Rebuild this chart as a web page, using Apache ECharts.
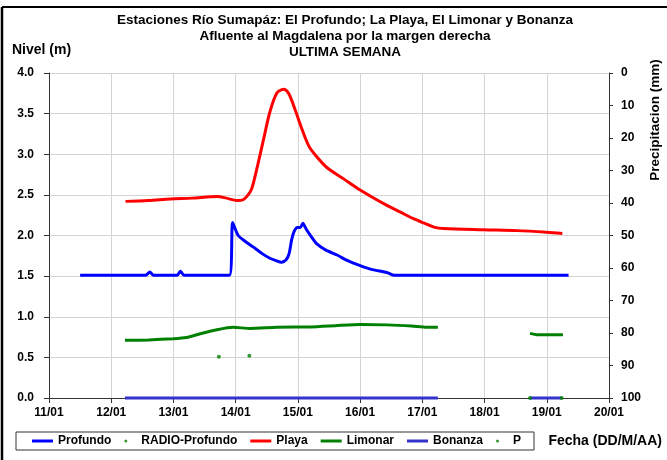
<!DOCTYPE html>
<html>
<head>
<meta charset="utf-8">
<script src="https://cdn.jsdelivr.net/npm/echarts@6/dist/echarts.min.js"></script>
<style>
  html, body { margin: 0; padding: 0; background: #fff; }
  #chart { width: 667px; height: 460px; }
</style>
</head>
<body>
<div id="chart"></div>
<script>
// days are day-of-month in January, values in metres
const dayTicks = [11, 12, 13, 14, 15, 16, 17, 18, 19, 20]

const profundo = [
  [11.50, 1.51], [12.55, 1.51], [12.62, 1.55], [12.68, 1.51], [13.06, 1.51],
  [13.11, 1.56], [13.17, 1.51], [13.90, 1.51], [13.95, 2.16], [14.04, 2.00],
  [14.15, 1.93], [14.28, 1.86], [14.42, 1.78], [14.55, 1.72], [14.65, 1.69],
  [14.74, 1.67], [14.81, 1.70], [14.86, 1.78], [14.90, 1.95], [14.94, 2.05],
  [14.99, 2.10], [15.04, 2.10], [15.08, 2.15], [15.14, 2.07], [15.22, 1.98],
  [15.30, 1.90], [15.45, 1.82], [15.63, 1.76], [15.80, 1.69], [16.00, 1.63],
  [16.20, 1.58], [16.43, 1.545], [16.55, 1.51], [19.35, 1.51],
]

const radioProfundo = [[13.73, 0.507], [14.22, 0.52]]

const playa = [
  [12.23, 2.42], [12.60, 2.43], [12.95, 2.45], [13.30, 2.46], [13.70, 2.48],
  [13.85, 2.46], [14.02, 2.43], [14.12, 2.44], [14.20, 2.50], [14.26, 2.58],
  [14.34, 2.82], [14.45, 3.19], [14.55, 3.52], [14.66, 3.75], [14.77, 3.80],
  [14.85, 3.75], [14.95, 3.56], [15.06, 3.32], [15.17, 3.11], [15.28, 2.99],
  [15.46, 2.84], [15.73, 2.70], [16.00, 2.56], [16.43, 2.37], [16.64, 2.29],
  [16.85, 2.21], [17.02, 2.155], [17.20, 2.10], [17.34, 2.085], [17.98, 2.07],
  [18.52, 2.06], [19.00, 2.04], [19.25, 2.025],
]

const limonar = [
  [12.22, 0.71], [12.60, 0.715], [13.00, 0.73], [13.21, 0.745], [13.43, 0.79],
  [13.70, 0.84], [13.96, 0.87], [14.23, 0.856], [14.66, 0.87], [15.20, 0.875],
  [15.60, 0.89], [16.00, 0.905], [16.43, 0.90], [16.83, 0.885], [17.07, 0.87],
  [17.25, 0.87], [17.80, null], [18.73, 0.795], [18.84, 0.78], [19.26, 0.78],
]

const bonanza = [[12.22, 0], [17.25, 0], [17.80, null], [18.73, 0], [19.24, 0]]

const precip = [[18.73, 0], [19.24, 0]]

const titleLines = [
  'Estaciones Río Sumapáz: El Profundo; La Playa, El Limonar y Bonanza',
  'Afluente al Magdalena por la margen derecha',
  'ULTIMA SEMANA',
]

const FONT = "'Liberation Sans', Arial, sans-serif"
const bold = (size) => `bold ${size}px ${FONT}`

const chart = echarts.init(document.getElementById('chart'))

const axisText = { color: '#000', fontSize: 12, fontWeight: 'bold', fontFamily: FONT }

const option = {
  animation: false,
  backgroundColor: '#fff',
  grid: { left: 49, right: 58, top: 73, bottom: 62 },
  legend: {
    left: 16,
    top: 432,
    padding: [3, 13, 3, 16],
    itemWidth: 21,
    itemHeight: 3,
    itemGap: 13,
    borderColor: '#333',
    borderWidth: 1,
    textStyle: { color: '#000', fontSize: 12, fontWeight: 'bold', fontFamily: FONT },
    data: [
      { name: 'Profundo', icon: 'rect' },
      { name: 'RADIO-Profundo', icon: 'circle' },
      { name: 'Playa', icon: 'rect' },
      { name: 'Limonar', icon: 'rect' },
      { name: 'Bonanza', icon: 'rect' },
      { name: 'P', icon: 'circle' },
    ],
  },
  xAxis: {
    type: 'value',
    min: dayTicks[0],
    max: dayTicks[dayTicks.length - 1],
    interval: 1,
    axisLine: { onZero: false, lineStyle: { color: '#333', width: 1 } },
    axisTick: { length: 5, lineStyle: { color: '#333' } },
    axisLabel: {
      ...axisText,
      margin: 9,
      formatter: (v) => String(v).padStart(2, '0') + '/01',
    },
    splitLine: { show: true, lineStyle: { color: '#d4d4d4', width: 1 } },
  },
  yAxis: [
    {
      type: 'value',
      min: 0,
      max: 4,
      interval: 0.5,
      axisLine: { show: true, lineStyle: { color: '#333' } },
      axisTick: { show: true, length: 5, lineStyle: { color: '#333' } },
      axisLabel: { ...axisText, margin: 15, formatter: (v) => v.toFixed(1) },
      splitLine: { show: true, lineStyle: { color: '#d4d4d4', width: 1 } },
    },
    {
      type: 'value',
      position: 'right',
      inverse: true,
      min: 0,
      max: 100,
      interval: 10,
      axisLine: { show: true, lineStyle: { color: '#333' } },
      axisTick: { show: true, length: 4, lineStyle: { color: '#333' } },
      axisLabel: { ...axisText, margin: 12 },
      splitLine: { show: false },
    },
  ],
  series: [
    {
      name: 'Profundo',
      type: 'line',
      data: profundo,
      showSymbol: false,
      smooth: 0.2,
      lineStyle: { color: '#0000ff', width: 3 },
      itemStyle: { color: '#0000ff' },
      z: 4,
    },
    {
      name: 'RADIO-Profundo',
      type: 'scatter',
      data: radioProfundo,
      symbolSize: 4,
      itemStyle: { color: '#008000' },
    },
    {
      name: 'Playa',
      type: 'line',
      data: playa,
      showSymbol: false,
      smooth: 0.3,
      lineStyle: { color: '#ff0000', width: 3 },
      itemStyle: { color: '#ff0000' },
      z: 4,
    },
    {
      name: 'Limonar',
      type: 'line',
      data: limonar,
      showSymbol: false,
      smooth: 0.2,
      connectNulls: false,
      lineStyle: { color: '#008000', width: 3 },
      itemStyle: { color: '#008000' },
    },
    {
      name: 'Bonanza',
      type: 'line',
      data: bonanza,
      showSymbol: false,
      clip: false,
      connectNulls: false,
      lineStyle: { color: '#3333cc', width: 3 },
      itemStyle: { color: '#3333cc' },
    },
    {
      name: 'P',
      type: 'scatter',
      data: precip,
      symbolSize: 4,
      clip: false,
      itemStyle: { color: '#008000' },
      z: 5,
    },
  ],
  graphic: [
    // frame lines of the original picture
    { type: 'line', shape: { x1: 2, y1: 7, x2: 2, y2: 460 }, style: { stroke: '#000', lineWidth: 2.5 } },
    { type: 'line', shape: { x1: 2, y1: 7, x2: 667, y2: 7 }, style: { stroke: '#000', lineWidth: 2 } },
    ...titleLines.map((t, i) => ({
      type: 'text',
      x: 345,
      y: 20 + i * 16,
      style: { text: t, font: bold(13.5), fill: '#000', align: 'center', verticalAlign: 'middle' },
    })),
    {
      type: 'text',
      x: 12,
      y: 50,
      style: { text: 'Nivel (m)', font: bold(14), fill: '#000', align: 'left', verticalAlign: 'middle' },
    },
    {
      type: 'text',
      x: 655,
      y: 120,
      rotation: Math.PI / 2,
      style: { text: 'Precipitacion (mm)', font: bold(13.5), fill: '#000', align: 'center', verticalAlign: 'middle' },
    },
    {
      type: 'text',
      x: 662,
      y: 441,
      style: { text: 'Fecha (DD/M/AA)', font: bold(14), fill: '#000', align: 'right', verticalAlign: 'middle' },
    },
  ],
}

chart.setOption(option)
</script>
</body>
</html>
